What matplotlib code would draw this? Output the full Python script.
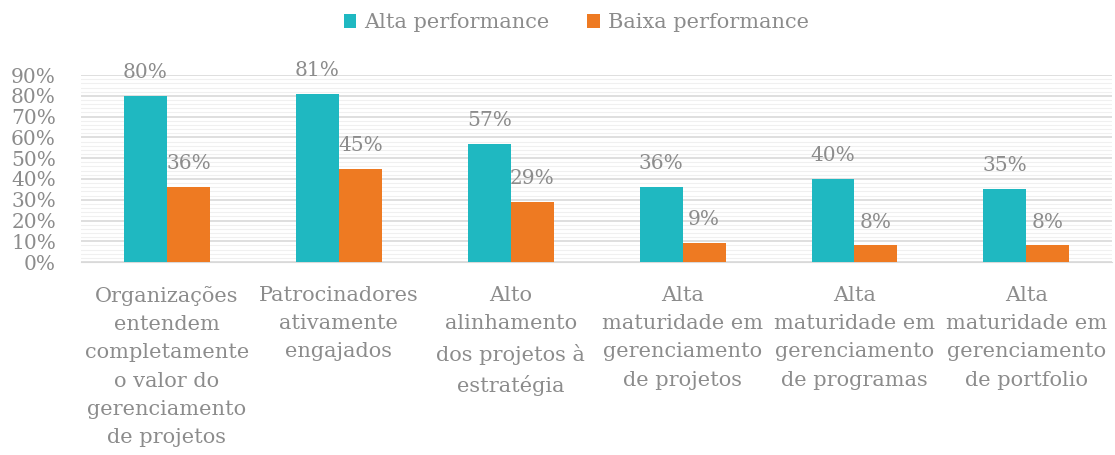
import matplotlib
matplotlib.use("Agg")
import matplotlib.pyplot as plt
import numpy as np
from matplotlib.ticker import MultipleLocator, PercentFormatter

categories = [
    "Organizações\nentendem\ncompletamente\no valor do\ngerenciamento\nde projetos",
    "Patrocinadores\nativamente\nengajados",
    "Alto\nalinhamento\ndos projetos à\nestratégia",
    "Alta\nmaturidade em\ngerenciamento\nde projetos",
    "Alta\nmaturidade em\ngerenciamento\nde programas",
    "Alta\nmaturidade em\ngerenciamento\nde portfolio",
]
alta = [80, 81, 57, 36, 40, 35]
baixa = [36, 45, 29, 9, 8, 8]
series_names = ["Alta performance", "Baixa performance"]
colors = ["#1FB8C1", "#EE7A22"]
text_color = "#8C8C8C"

plt.rcParams['font.family'] = ['DejaVu Serif']

fig = plt.figure(figsize=(11.15, 4.55), dpi=100)
ax = fig.add_axes([0.0726, 0.424, 0.925, 0.411])

x = np.arange(len(categories))
w = 0.25
b1 = ax.bar(x - w/2, alta, w, color=colors[0], label=series_names[0], zorder=3)
b2 = ax.bar(x + w/2, baixa, w, color=colors[1], label=series_names[1], zorder=3)

for bars, vals in ((b1, alta), (b2, baixa)):
    for r, v in zip(bars, vals):
        ax.annotate(f"{v}%", (r.get_x() + r.get_width()/2, v), xytext=(0, 10),
                    textcoords="offset points", ha="center", va="bottom",
                    fontsize=14.5, color=text_color)

ax.set_xlim(-0.5, len(categories) - 0.5)
ax.set_ylim(0, 90)
ax.yaxis.set_major_locator(MultipleLocator(10))
ax.yaxis.set_minor_locator(MultipleLocator(2))
ax.yaxis.set_major_formatter(PercentFormatter(decimals=0))
ax.grid(axis='y', which='major', color="#D9D9D9", linewidth=1.2, zorder=0)
ax.grid(axis='y', which='minor', color="#F0F0F0", linewidth=0.8, zorder=0)
ax.set_xticks(x)
ax.set_xticklabels(categories, fontsize=15, color=text_color, linespacing=1.62)
ax.tick_params(axis='y', labelsize=14.5, labelcolor=text_color, length=0, pad=18, which='both')
ax.tick_params(axis='x', length=0, pad=17)
for s in ["top", "right", "left"]:
    ax.spines[s].set_visible(False)
ax.spines["bottom"].set_color("#D9D9D9")

fig.legend(handles=[b1, b2], labels=series_names, loc="upper center",
           bbox_to_anchor=(0.517, 1.012), ncol=2, frameon=False, fontsize=15,
           labelcolor=text_color, handlelength=0.6, handleheight=0.6,
           columnspacing=1.8, handletextpad=0.4)

fig.savefig("out.png", dpi=100)
